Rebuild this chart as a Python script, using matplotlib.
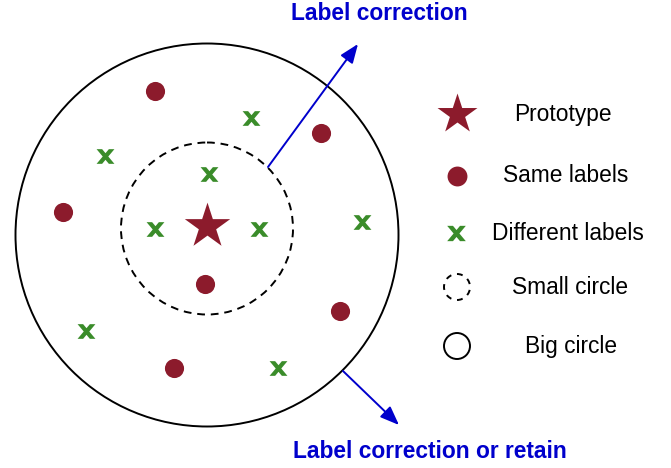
import matplotlib
matplotlib.use("Agg")
import matplotlib.pyplot as plt
from matplotlib.patches import Circle
from matplotlib.path import Path

plt.rcParams['font.family'] = ['Liberation Sans', 'DejaVu Sans']

RED = '#8c1b2c'
GREEN = '#3a8c2a'
BLUE = '#0000cc'

# Data (pixel-space coordinates of the schematic)
prototype = (207, 225.5)
same_x = [155, 321, 63, 205, 340, 174]
same_y = [91, 133, 212, 284, 311, 368]
diff_x = [251, 105, 209, 155, 259, 362, 86, 278]
diff_y = [118, 156, 174, 229, 229, 222, 331, 368]
small_circle = (207, 228.5, 86)
big_circle = (207, 235, 191.5)
legend_labels = ['Prototype', 'Same labels', 'Different labels', 'Small circle', 'Big circle']
legend_text_x = [563, 566, 568, 570, 571]
legend_y = [114, 176, 233, 287, 346]
arrow_up = ((268, 167), (358, 44))
arrow_down = ((343, 371), (399, 425))
title_top = 'Label correction'
title_bottom = 'Label correction or retain'

# bold lowercase "x" marker shape (wider than tall)
_w, _h, _t = 9.0, 7.4, 5.6
_n = _h - 2 * _h * (_w - _t) / (2 * _w - _t)
_m = -_t / 2
XMARK = Path([(-_w, _h), (-_w + _t, _h), (0, _n), (_w - _t, _h), (_w, _h), (-_m, 0),
              (_w, -_h), (_w - _t, -_h), (0, -_n), (-_w + _t, -_h), (-_w, -_h), (_m, 0),
              (-_w, _h)], closed=True)

fig = plt.figure(figsize=(6.71, 4.68), dpi=100)
ax = fig.add_axes([0, 0, 1, 1])
ax.set_xlim(0, 671)
ax.set_ylim(468, 0)
ax.set_aspect('equal')
ax.axis('off')

ax.add_patch(Circle(big_circle[:2], big_circle[2], fill=False, ec='black', lw=1.4))
ax.add_patch(Circle(small_circle[:2], small_circle[2], fill=False, ec='black', lw=1.4,
                    ls=(0, (4, 3))))

ax.scatter(same_x, same_y, s=190, c=RED, marker='o', linewidths=0, zorder=3)
ax.scatter(diff_x, diff_y, s=165, c=GREEN, marker=XMARK, linewidths=0, zorder=3)
ax.scatter([prototype[0]], [prototype[1]], s=1180, c=RED, marker='*', linewidths=0, zorder=3)

for (x0, y0), (x1, y1) in [arrow_up, arrow_down]:
    ax.annotate('', xy=(x1, y1), xytext=(x0, y0),
                arrowprops=dict(arrowstyle='-|>,head_length=1.15,head_width=0.45',
                                color=BLUE, lw=1.4, shrinkA=0, shrinkB=0))

ax.text(379, 14, title_top, color=BLUE, fontsize=16.4, fontweight='bold', ha='center', va='center')
ax.text(430, 452, title_bottom, color=BLUE, fontsize=16.4, fontweight='bold', ha='center', va='center')

# legend
lx = 457
ax.scatter([lx], [legend_y[0]], s=913, c=RED, marker='*', linewidths=0)
ax.scatter([lx], [legend_y[1]], s=205, c=RED, marker='o', linewidths=0)
ax.scatter([lx - 1], [legend_y[2]], s=180, c=GREEN, marker=XMARK, linewidths=0)
ax.add_patch(Circle((lx, legend_y[3]), 13, fill=False, ec='black', lw=1.4, ls=(0, (3, 3))))
ax.add_patch(Circle((lx, legend_y[4]), 13, fill=False, ec='black', lw=1.4))
for tx, ty, lab in zip(legend_text_x, legend_y, legend_labels):
    ax.text(tx, ty, lab, fontsize=16.4, ha='center', va='center', color='black')

fig.savefig('out.png', dpi=100, facecolor='white')
